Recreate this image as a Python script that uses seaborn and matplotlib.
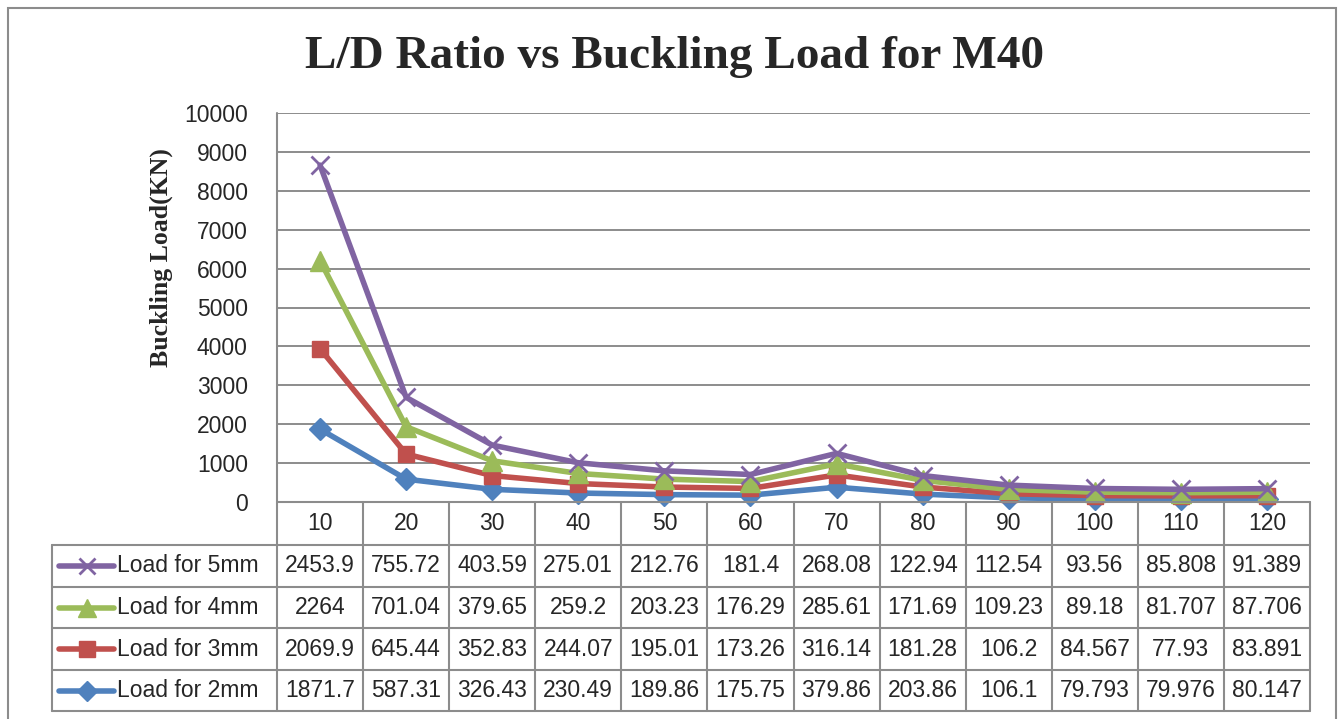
import numpy as np
import pandas as pd
import seaborn as sns
import matplotlib.pyplot as plt
from matplotlib.lines import Line2D
from matplotlib.patches import Rectangle
import matplotlib.transforms as mtransforms

# L/D ratio categories
ld_ratio = [10, 20, 30, 40, 50, 60, 70, 80, 90, 100, 110, 120]

# per-series values as shown in the data table (chart is stacked)
load_2mm = [1871.7, 587.31, 326.43, 230.49, 189.86, 175.75, 379.86, 203.86, 106.1, 79.793, 79.976, 80.147]
load_3mm = [2069.9, 645.44, 352.83, 244.07, 195.01, 173.26, 316.14, 181.28, 106.2, 84.567, 77.93, 83.891]
load_4mm = [2264, 701.04, 379.65, 259.2, 203.23, 176.29, 285.61, 171.69, 109.23, 89.18, 81.707, 87.706]
load_5mm = [2453.9, 755.72, 403.59, 275.01, 212.76, 181.4, 268.08, 122.94, 112.54, 93.56, 85.808, 91.389]

# table display strings (keep Excel formatting)
txt_2mm = ["1871.7", "587.31", "326.43", "230.49", "189.86", "175.75", "379.86", "203.86", "106.1", "79.793", "79.976", "80.147"]
txt_3mm = ["2069.9", "645.44", "352.83", "244.07", "195.01", "173.26", "316.14", "181.28", "106.2", "84.567", "77.93", "83.891"]
txt_4mm = ["2264", "701.04", "379.65", "259.2", "203.23", "176.29", "285.61", "171.69", "109.23", "89.18", "81.707", "87.706"]
txt_5mm = ["2453.9", "755.72", "403.59", "275.01", "212.76", "181.4", "268.08", "122.94", "112.54", "93.56", "85.808", "91.389"]

series_names = ["Load for 2mm", "Load for 3mm", "Load for 4mm", "Load for 5mm"]
colors = ["#4F81BD", "#C0504D", "#9BBB59", "#8064A2"]
markers = ["D", "s", "^", "x"]
msizes = [11, 12, 14, 13]

W, H = 1340, 719
sns.set_theme(style="white")
narrow = ["Liberation Sans Narrow", "Liberation Sans", "DejaVu Sans"]
serif = ["Liberation Serif", "DejaVu Serif"]
fs = 16.5

fig = plt.figure(figsize=(W / 100, H / 100), dpi=100)

def fx(px):
    return px / W

def fy(py):
    return 1 - py / H

left, right, top, bottom = 277, 1310, 113, 502
ax = fig.add_axes([fx(left), fy(bottom), fx(right - left), fy(top) - fy(bottom)])

df = pd.DataFrame({"ld": ld_ratio, "Load for 2mm": load_2mm, "Load for 3mm": load_3mm,
                   "Load for 4mm": load_4mm, "Load for 5mm": load_5mm})
df["pos"] = np.arange(len(ld_ratio))
stacked = df[series_names].cumsum(axis=1)

grid_c = "#8C8C8C"
for yv in range(1000, 10001, 1000):
    ax.axhline(yv, color=grid_c, lw=1.4, zorder=0)

for name, c, m, ms in zip(series_names, colors, markers, msizes):
    sns.lineplot(x=df["pos"], y=stacked[name], ax=ax, color=c, lw=4, marker=m,
                 markersize=ms, markeredgecolor=c, markeredgewidth=2 if m == "x" else 1,
                 clip_on=False, zorder=3)

ax.set_xlim(-0.5, len(ld_ratio) - 0.5)
ax.set_ylim(0, 10000)
ax.set_yticks(range(0, 10001, 1000))
ax.set_yticklabels([str(v) for v in range(0, 10001, 1000)], fontsize=fs, family=narrow)
ax.tick_params(axis="y", length=0, pad=21)
ax.set_xticks([])
ax.set_xlabel("")
ax.set_ylabel("")
for s in ["top", "right", "bottom", "left"]:
    ax.spines[s].set_visible(False)

# title and y-label
fig.text(fx(675), fy(57), "L/D Ratio vs Buckling Load for M40", ha="center", va="center",
         fontsize=34, fontweight="bold", family=serif)
fig.text(fx(161), fy(258), "Buckling Load(KN)", ha="center", va="center", rotation=90,
         fontsize=18.5, fontweight="bold", family=serif)

# outer chart border
fig.add_artist(Rectangle((fx(8), fy(730)), fx(1336 - 8), fy(8) - fy(730), fill=False,
                         edgecolor="#8C8C8C", lw=1.5, transform=fig.transFigure))

# data table
tr = mtransforms.blended_transform_factory(ax.transData, fig.transFigure)
line_c = "#8C8C8C"
rows_y = [502, 545, 587, 628, 670, 711]
n = len(ld_ratio)

# header row vertical lines + plot-area left line
fig.add_artist(Line2D([fx(left), fx(left)], [fy(top), fy(711)], color=line_c, lw=1.5,
                      transform=fig.transFigure))
for i in range(n):
    xb = i + 0.5
    fig.add_artist(Line2D([xb, xb], [fy(502), fy(711)], color=line_c, lw=1.5, transform=tr))
    fig.text(i, fy(523), str(ld_ratio[i]), transform=tr, ha="center", va="center",
             fontsize=fs, family=narrow)
fig.add_artist(Line2D([fx(left), fx(right)], [fy(502), fy(502)], color=line_c, lw=1.5,
                      transform=fig.transFigure))
for yy in rows_y[1:]:
    fig.add_artist(Line2D([fx(52), fx(right)], [fy(yy), fy(yy)], color=line_c, lw=1.5,
                          transform=fig.transFigure))
fig.add_artist(Line2D([fx(52), fx(52)], [fy(545), fy(711)], color=line_c, lw=1.5,
                      transform=fig.transFigure))

row_names = series_names[::-1]
row_txt = [txt_5mm, txt_4mm, txt_3mm, txt_2mm]
row_cols = colors[::-1]
row_marks = markers[::-1]
row_ms = msizes[::-1]
for r, (name, vals, c, m, ms) in enumerate(zip(row_names, row_txt, row_cols, row_marks, row_ms)):
    yc = (rows_y[r + 1] + rows_y[r + 2]) / 2
    fig.add_artist(Line2D([fx(59), fx(114)], [fy(yc), fy(yc)], color=c, lw=4,
                          transform=fig.transFigure))
    fig.add_artist(Line2D([fx(87)], [fy(yc)], color=c, marker=m, markersize=ms - 1,
                          markeredgecolor=c, markeredgewidth=2 if m == "x" else 1,
                          transform=fig.transFigure))
    fig.text(fx(117), fy(yc), name, ha="left", va="center", fontsize=fs, family=narrow)
    for i, v in enumerate(vals):
        fig.text(i, fy(yc), v, transform=tr, ha="center", va="center", fontsize=fs, family=narrow)

fig.savefig("out.png", dpi=100)
